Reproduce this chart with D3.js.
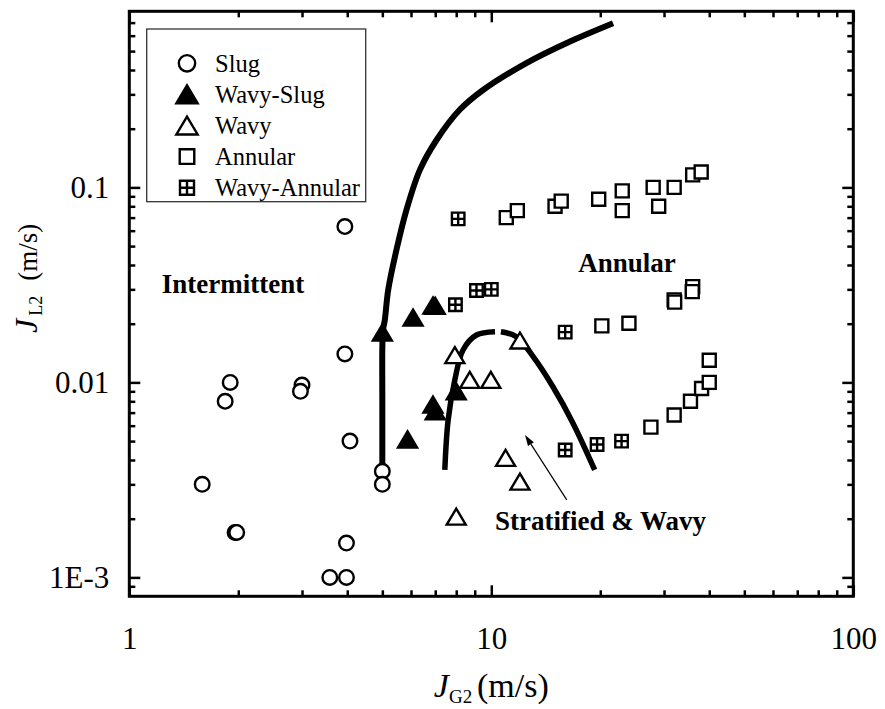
<!DOCTYPE html>
<html>
<head>
<meta charset="utf-8">
<script src="https://cdn.jsdelivr.net/npm/d3@7"></script>
<style>
  html, body { margin: 0; padding: 0; background: #fff; }
  svg { display: block; }
  text { font-family: "Liberation Serif", "Times New Roman", serif; fill: #000; }
</style>
</head>
<body>
<svg id="chart" width="885" height="709"></svg>
<script>
// Flow-regime observations: [J_G2 (m/s), J_L2 (m/s)]
const slug = [
  [3.94, 0.063], [3.94, 0.014], [1.90, 0.0100], [1.84, 0.0080],
  [3.00, 0.0097], [2.97, 0.0090], [4.07, 0.0050], [5.00, 0.0035],
  [5.00, 0.0030], [1.59, 0.0030], [1.96, 0.0017], [1.98, 0.0017],
  [3.98, 0.0015], [3.58, 0.0010], [3.98, 0.0010]
];
const wavySlug = [
  [5.00, 0.0180], [6.08, 0.0215], [6.90, 0.0248], [7.00, 0.0247],
  [6.90, 0.0077], [7.00, 0.0071], [8.00, 0.0090], [5.87, 0.0051]
];
const wavy = [
  [7.93, 0.0138], [8.72, 0.0103], [9.97, 0.0103], [12.0, 0.0164],
  [10.95, 0.0041], [12.0, 0.0031], [8.00, 0.00205]
];
const annular = [
  [11.0, 0.070], [11.8, 0.076], [15.0, 0.080], [15.6, 0.085],
  [19.8, 0.087], [23.0, 0.096], [23.0, 0.076], [28.0, 0.100],
  [29.0, 0.080], [32.0, 0.100], [36.0, 0.116], [38.0, 0.120],
  [20.2, 0.0195], [24.0, 0.0201], [32.0, 0.0265], [32.1, 0.0258],
  [36.0, 0.0310], [35.9, 0.0292],
  [27.6, 0.0059], [32.0, 0.0068], [35.5, 0.0080], [38.1, 0.0093],
  [40.0, 0.0100], [40.0, 0.0130]
];
const wavyAnnular = [
  [8.10, 0.069], [7.96, 0.025], [9.10, 0.0296], [10.0, 0.0300],
  [16.0, 0.0181], [16.0, 0.0045], [19.6, 0.0048], [22.9, 0.0050]
];

// Transition boundaries
const boundaryIntermittent = [
  [5.00, 0.0038], [5.00, 0.0080], [5.00, 0.0150], [5.02, 0.0185],
  [5.08, 0.0209], [5.19, 0.0298], [5.47, 0.0478], [5.83, 0.0767],
  [6.35, 0.123], [7.06, 0.175], [8.18, 0.250], [9.49, 0.316],
  [12.5, 0.434], [16.5, 0.560], [21.7, 0.695]
];
const boundaryStratifiedLeft = [
  [7.44, 0.00356], [7.60, 0.00642], [7.93, 0.0103], [8.36, 0.0147],
  [9.10, 0.0175], [10.24, 0.0182]
];
const boundaryStratifiedRight = [
  [10.63, 0.0182], [11.7, 0.0172], [13.05, 0.01356], [14.8, 0.0095],
  [16.8, 0.0062], [19.3, 0.00356]
];

// Axis ticks
const xMajor = [1, 10, 100];
const xMajorLabels = ["1", "10", "100"];
const yMajor = [0.001, 0.01, 0.1];
const yMajorLabels = ["1E-3", "0.01", "0.1"];

// Region labels and arrow
const regionLabels = [
  { text: "Intermittent", at: [1.229, 0.0286] },
  { text: "Annular", at: [17.39, 0.0370] },
  { text: "Stratified & Wavy", at: [10.24, 0.00175] }
];
const arrowFrom = [16.16, 0.0025];
const arrowTo = [12.39, 0.00538];

const legendItems = [
  { label: "Slug", kind: "circle" },
  { label: "Wavy-Slug", kind: "triFilled" },
  { label: "Wavy", kind: "triOpen" },
  { label: "Annular", kind: "square" },
  { label: "Wavy-Annular", kind: "plusSquare" }
];

const svg = d3.select("#chart");
const L = 129.3, R = 853.3, T = 11.3, B = 596.3;

const x = d3.scaleLog().domain([1, 100]).range([L, R]);
const y = d3.scaleLog().domain([0.0008, 0.8]).range([B, T]);

function minorTicks(lo, hi) {
  const out = [];
  for (let e = Math.floor(Math.log10(lo)); e <= Math.ceil(Math.log10(hi)); e++) {
    for (let m = 2; m <= 9; m++) {
      const v = m * Math.pow(10, e);
      if (v > lo * 1.0001 && v < hi * 0.9999) out.push(v);
    }
  }
  return out;
}
const xMinor = minorTicks(1, 100);
const yMinor = minorTicks(0.0008, 0.8);

svg.append("rect").attr("width", 885).attr("height", 709).attr("fill", "#fff");

// Axes with inward ticks on all four sides
function styleAxis(g) {
  g.select(".domain").remove();
  g.selectAll(".tick line").attr("stroke", "#000").attr("stroke-width", 2.5);
}
const axes = svg.append("g");
const MAJ = -11, MIN = -6;

axes.append("g").attr("transform", `translate(0,${B})`)
  .call(d3.axisBottom(x).tickValues(xMajor).tickFormat((d, i) => xMajorLabels[i])
    .tickSizeInner(MAJ).tickSizeOuter(0).tickPadding(31))
  .call(styleAxis)
  .selectAll("text").attr("font-size", 31);
axes.append("g").attr("transform", `translate(0,${B})`)
  .call(d3.axisBottom(x).tickValues(xMinor).tickFormat("").tickSizeInner(MIN).tickSizeOuter(0))
  .call(styleAxis);
axes.append("g").attr("transform", `translate(0,${T})`)
  .call(d3.axisTop(x).tickValues(xMajor).tickFormat("").tickSizeInner(MAJ).tickSizeOuter(0))
  .call(styleAxis);
axes.append("g").attr("transform", `translate(0,${T})`)
  .call(d3.axisTop(x).tickValues(xMinor).tickFormat("").tickSizeInner(MIN).tickSizeOuter(0))
  .call(styleAxis);

axes.append("g").attr("transform", `translate(${L},0)`)
  .call(d3.axisLeft(y).tickValues(yMajor).tickFormat((d, i) => yMajorLabels[i])
    .tickSizeInner(MAJ).tickSizeOuter(0).tickPadding(20))
  .call(styleAxis)
  .selectAll("text").attr("font-size", 31);
axes.append("g").attr("transform", `translate(${L},0)`)
  .call(d3.axisLeft(y).tickValues(yMinor).tickFormat("").tickSizeInner(MIN).tickSizeOuter(0))
  .call(styleAxis);
axes.append("g").attr("transform", `translate(${R},0)`)
  .call(d3.axisRight(y).tickValues(yMajor).tickFormat("").tickSizeInner(MAJ).tickSizeOuter(0))
  .call(styleAxis);
axes.append("g").attr("transform", `translate(${R},0)`)
  .call(d3.axisRight(y).tickValues(yMinor).tickFormat("").tickSizeInner(MIN).tickSizeOuter(0))
  .call(styleAxis);

// Frame
svg.append("rect")
  .attr("x", L).attr("y", T).attr("width", R - L).attr("height", B - T)
  .attr("fill", "none").attr("stroke", "#000").attr("stroke-width", 3);

// Axis titles
const xt = svg.append("text").attr("x", (L + R) / 2).attr("y", 697)
  .attr("text-anchor", "middle").attr("font-size", 34);
xt.append("tspan").attr("font-style", "italic").text("J");
xt.append("tspan").attr("font-size", 19).attr("dy", 6).text("G2\u00a0");
xt.append("tspan").attr("dy", -6).text("(m/s)");

const yt = svg.append("text").attr("transform", "translate(37,333) rotate(-90)")
  .attr("text-anchor", "start").attr("font-size", 27);
yt.append("tspan").attr("font-style", "italic").attr("font-size", 32).text("J");
yt.append("tspan").attr("font-size", 18).attr("dy", 5).attr("dx", 3).text("L2");
yt.append("tspan").attr("dy", -5).attr("dx", 15).text("(m/s)");

// Boundaries
const line = d3.line().x(d => x(d[0])).y(d => y(d[1])).curve(d3.curveCatmullRom.alpha(0.5));
const curves = svg.append("g").attr("fill", "none").attr("stroke", "#000");
curves.append("path").datum(boundaryIntermittent).attr("d", line).attr("stroke-width", 6);
curves.append("path").datum(boundaryStratifiedLeft).attr("d", line).attr("stroke-width", 5.5);
curves.append("path").datum(boundaryStratifiedRight).attr("d", line).attr("stroke-width", 5.5);

// Marker shapes
function shapePath(kind, s) {
  s = s || 1;
  const p = d3.path();
  if (kind === "circle") {
    const r = 7.3 * s;
    p.moveTo(r, 0); p.arc(0, 0, r, 0, 2 * Math.PI); p.closePath();
  } else if (kind === "triOpen" || kind === "triFilled") {
    const w = 19 * s, h = 16 * s;
    p.moveTo(0, -h / 2); p.lineTo(w / 2, h / 2); p.lineTo(-w / 2, h / 2); p.closePath();
  } else if (kind === "square" || kind === "plusSquare") {
    const a = (kind === "square" ? 13 : 12.5) * s / 2;
    p.rect(-a, -a, 2 * a, 2 * a);
    if (kind === "plusSquare") {
      p.moveTo(-a, 0); p.lineTo(a, 0);
      p.moveTo(0, -a); p.lineTo(0, a);
    }
  }
  return p.toString();
}
function drawMarker(g, kind, s) {
  g.append("path").attr("d", shapePath(kind, s))
    .attr("fill", kind === "triFilled" ? "#000" : "#fff")
    .attr("stroke", "#000").attr("stroke-width", 2.4)
    .attr("stroke-linejoin", "miter");
}

const series = [
  { data: slug, kind: "circle" },
  { data: wavySlug, kind: "triFilled" },
  { data: wavy, kind: "triOpen" },
  { data: annular, kind: "square" },
  { data: wavyAnnular, kind: "plusSquare" }
];
const marks = svg.append("g");
series.forEach(sr => {
  sr.data.forEach(d => {
    const g = marks.append("g").attr("transform", `translate(${x(d[0])},${y(d[1])})`);
    drawMarker(g, sr.kind, 1);
  });
});

// Region labels
svg.append("g").selectAll("text").data(regionLabels).join("text")
  .attr("x", d => x(d.at[0])).attr("y", d => y(d.at[1]))
  .attr("font-size", 27).attr("font-weight", "bold")
  .text(d => d.text);

// Arrow pointing into the stratified region
const ax0 = x(arrowFrom[0]), ay0 = y(arrowFrom[1]);
const ax1 = x(arrowTo[0]), ay1 = y(arrowTo[1]);
const ang = Math.atan2(ay1 - ay0, ax1 - ax0);
const headLen = 11, headW = 3.5;
const bx = ax1 - headLen * Math.cos(ang), by = ay1 - headLen * Math.sin(ang);
svg.append("line").attr("x1", ax0).attr("y1", ay0).attr("x2", bx).attr("y2", by)
  .attr("stroke", "#000").attr("stroke-width", 1.2);
svg.append("path")
  .attr("d", `M${ax1},${ay1} L${bx + headW * Math.sin(ang)},${by - headW * Math.cos(ang)} L${bx - headW * Math.sin(ang)},${by + headW * Math.cos(ang)} Z`)
  .attr("fill", "#000");

// Legend
const legend = svg.append("g");
legend.append("rect").attr("x", 146.7).attr("y", 29).attr("width", 219).attr("height", 172.7)
  .attr("fill", "#fff").attr("stroke", "#333").attr("stroke-width", 1.3);
legendItems.forEach((it, i) => {
  const cy = 63.3 + i * 31.1;
  const g = legend.append("g").attr("transform", `translate(187,${cy})`);
  drawMarker(g, it.kind, 1.12);
  legend.append("text").attr("x", 215).attr("y", cy + 8.5)
    .attr("font-size", 24.5).text(it.label);
});
</script>
</body>
</html>
